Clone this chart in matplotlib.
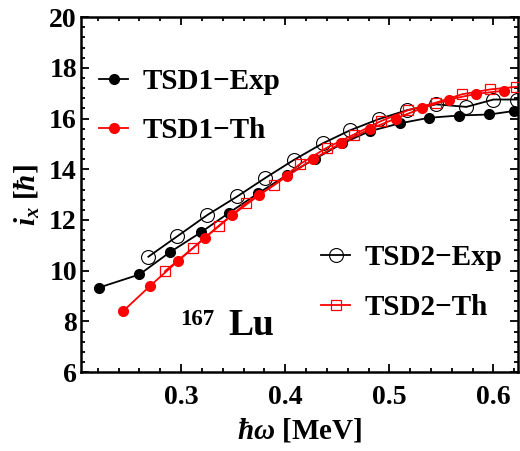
import numpy as np
import matplotlib
matplotlib.use("Agg")
import matplotlib.pyplot as plt
from matplotlib.ticker import MultipleLocator

#fonts: bold serif everywhere, bold italic for the math symbols
plt.rcParams["font.family"] = ["Liberation Serif", "DejaVu Serif"]
plt.rcParams["font.weight"] = "bold"
plt.rcParams["axes.labelweight"] = "bold"
plt.rcParams["mathtext.fontset"] = "custom"
plt.rcParams["mathtext.rm"] = "Liberation Serif:bold"
plt.rcParams["mathtext.it"] = "Liberation Serif:italic:bold"
plt.rcParams["mathtext.bf"] = "Liberation Serif:bold"

#TSD1 experiment (filled black circles)
w_tsd1_exp = [0.221, 0.260, 0.289, 0.319, 0.346, 0.374, 0.402, 0.429, 0.455, 0.481, 0.510, 0.538, 0.567, 0.596, 0.620]
i_tsd1_exp = [9.33, 9.85, 10.72, 11.51, 12.28, 13.05, 13.78, 14.42, 15.02, 15.50, 15.81, 16.03, 16.12, 16.16, 16.30]

#TSD1 theory (filled red circles)
w_tsd1_th = [0.2445, 0.270, 0.297, 0.323, 0.349, 0.375, 0.402, 0.427, 0.454, 0.481, 0.506, 0.531, 0.557, 0.583, 0.610]
i_tsd1_th = [8.41, 9.39, 10.38, 11.30, 12.19, 12.98, 13.73, 14.40, 15.04, 15.58, 16.00, 16.40, 16.75, 16.97, 17.10]

#TSD2 experiment (open black circles)
w_tsd2_exp = [0.2686, 0.2965, 0.325, 0.354, 0.381, 0.408, 0.436, 0.4625, 0.490, 0.517, 0.545, 0.574, 0.600, 0.623]
i_tsd2_exp = [10.55, 11.36, 12.19, 12.93, 13.66, 14.36, 15.02, 15.54, 15.98, 16.33, 16.56, 16.46, 16.75, 16.75]

#TSD2 theory (open red squares)
w_tsd2_th = [0.2846, 0.311, 0.3365, 0.362, 0.389, 0.414, 0.440, 0.466, 0.492, 0.518, 0.545, 0.570, 0.597, 0.622]
i_tsd2_th = [9.98, 10.88, 11.78, 12.65, 13.37, 14.20, 14.85, 15.37, 15.90, 16.33, 16.63, 16.96, 17.15, 17.25]

x_ticks = [0.3, 0.4, 0.5, 0.6]
y_ticks = [6, 8, 10, 12, 14, 16, 18, 20]

fig = plt.figure(figsize=(5.2, 4.51), dpi=100)
ax = fig.add_axes([0.156, 0.175, 0.841, 0.787])

l1, = ax.plot(w_tsd1_exp, i_tsd1_exp, color="k", lw=1.3, marker="o", ms=7,
              mfc="k", mec="k", label="TSD1\u2212Exp", zorder=3)
l3, = ax.plot(w_tsd2_exp, i_tsd2_exp, color="k", lw=1.3, marker="o", ms=10,
              mfc="none", mec="k", mew=0.8, label="TSD2\u2212Exp", zorder=4)
l2, = ax.plot(w_tsd1_th, i_tsd1_th, color="red", lw=1.3, marker="o", ms=7,
              mfc="red", mec="red", label="TSD1\u2212Th", zorder=5)
l4, = ax.plot(w_tsd2_th, i_tsd2_th, color="red", lw=1.3, marker="s", ms=6.5,
              mfc="none", mec="red", mew=0.9, label="TSD2\u2212Th", zorder=6)

ax.set_xlim(0.204, 0.624)
ax.set_ylim(6, 20)
ax.set_xticks(x_ticks)
ax.set_yticks(y_ticks)
ax.set_xticklabels([f"{t:.1f}" for t in x_ticks])
ax.xaxis.set_minor_locator(MultipleLocator(0.02))
ax.yaxis.set_minor_locator(MultipleLocator(0.4))

ax.tick_params(which="both", direction="in", top=True, right=True, width=1.3)
ax.tick_params(which="major", length=6, labelsize=20)
ax.tick_params(which="minor", length=3)
ax.tick_params(axis="x", which="major", pad=9)
ax.tick_params(axis="y", which="major", pad=3)
for s in ax.spines.values():
    s.set_linewidth(1.8)

ax.set_xlabel(r"$\hbar\omega$ [MeV]", fontsize=21, fontweight="bold", labelpad=5)
ax.set_ylabel(r"$i_x$ [$\hbar$]", fontsize=21, fontweight="bold", labelpad=5)

#nucleus label
ax.text(0.299, 7.85, "167", fontsize=16.5, fontweight="bold", va="baseline")
ax.text(0.345, 7.46, "Lu", fontsize=27, fontweight="bold", va="baseline")

#two separate legends
leg1 = ax.legend(handles=[l1, l2], loc="upper left", bbox_to_anchor=(0.041, 0.856),
                 frameon=False, fontsize=21, handlelength=1.0, handletextpad=0.5,
                 labelspacing=0.75, borderpad=0, borderaxespad=0)
ax.add_artist(leg1)
ax.legend(handles=[l3, l4], loc="upper left", bbox_to_anchor=(0.549, 0.36),
          frameon=False, fontsize=21, handlelength=1.0, handletextpad=0.5,
          labelspacing=0.77, borderpad=0, borderaxespad=0)

fig.savefig("out.png", dpi=100)
